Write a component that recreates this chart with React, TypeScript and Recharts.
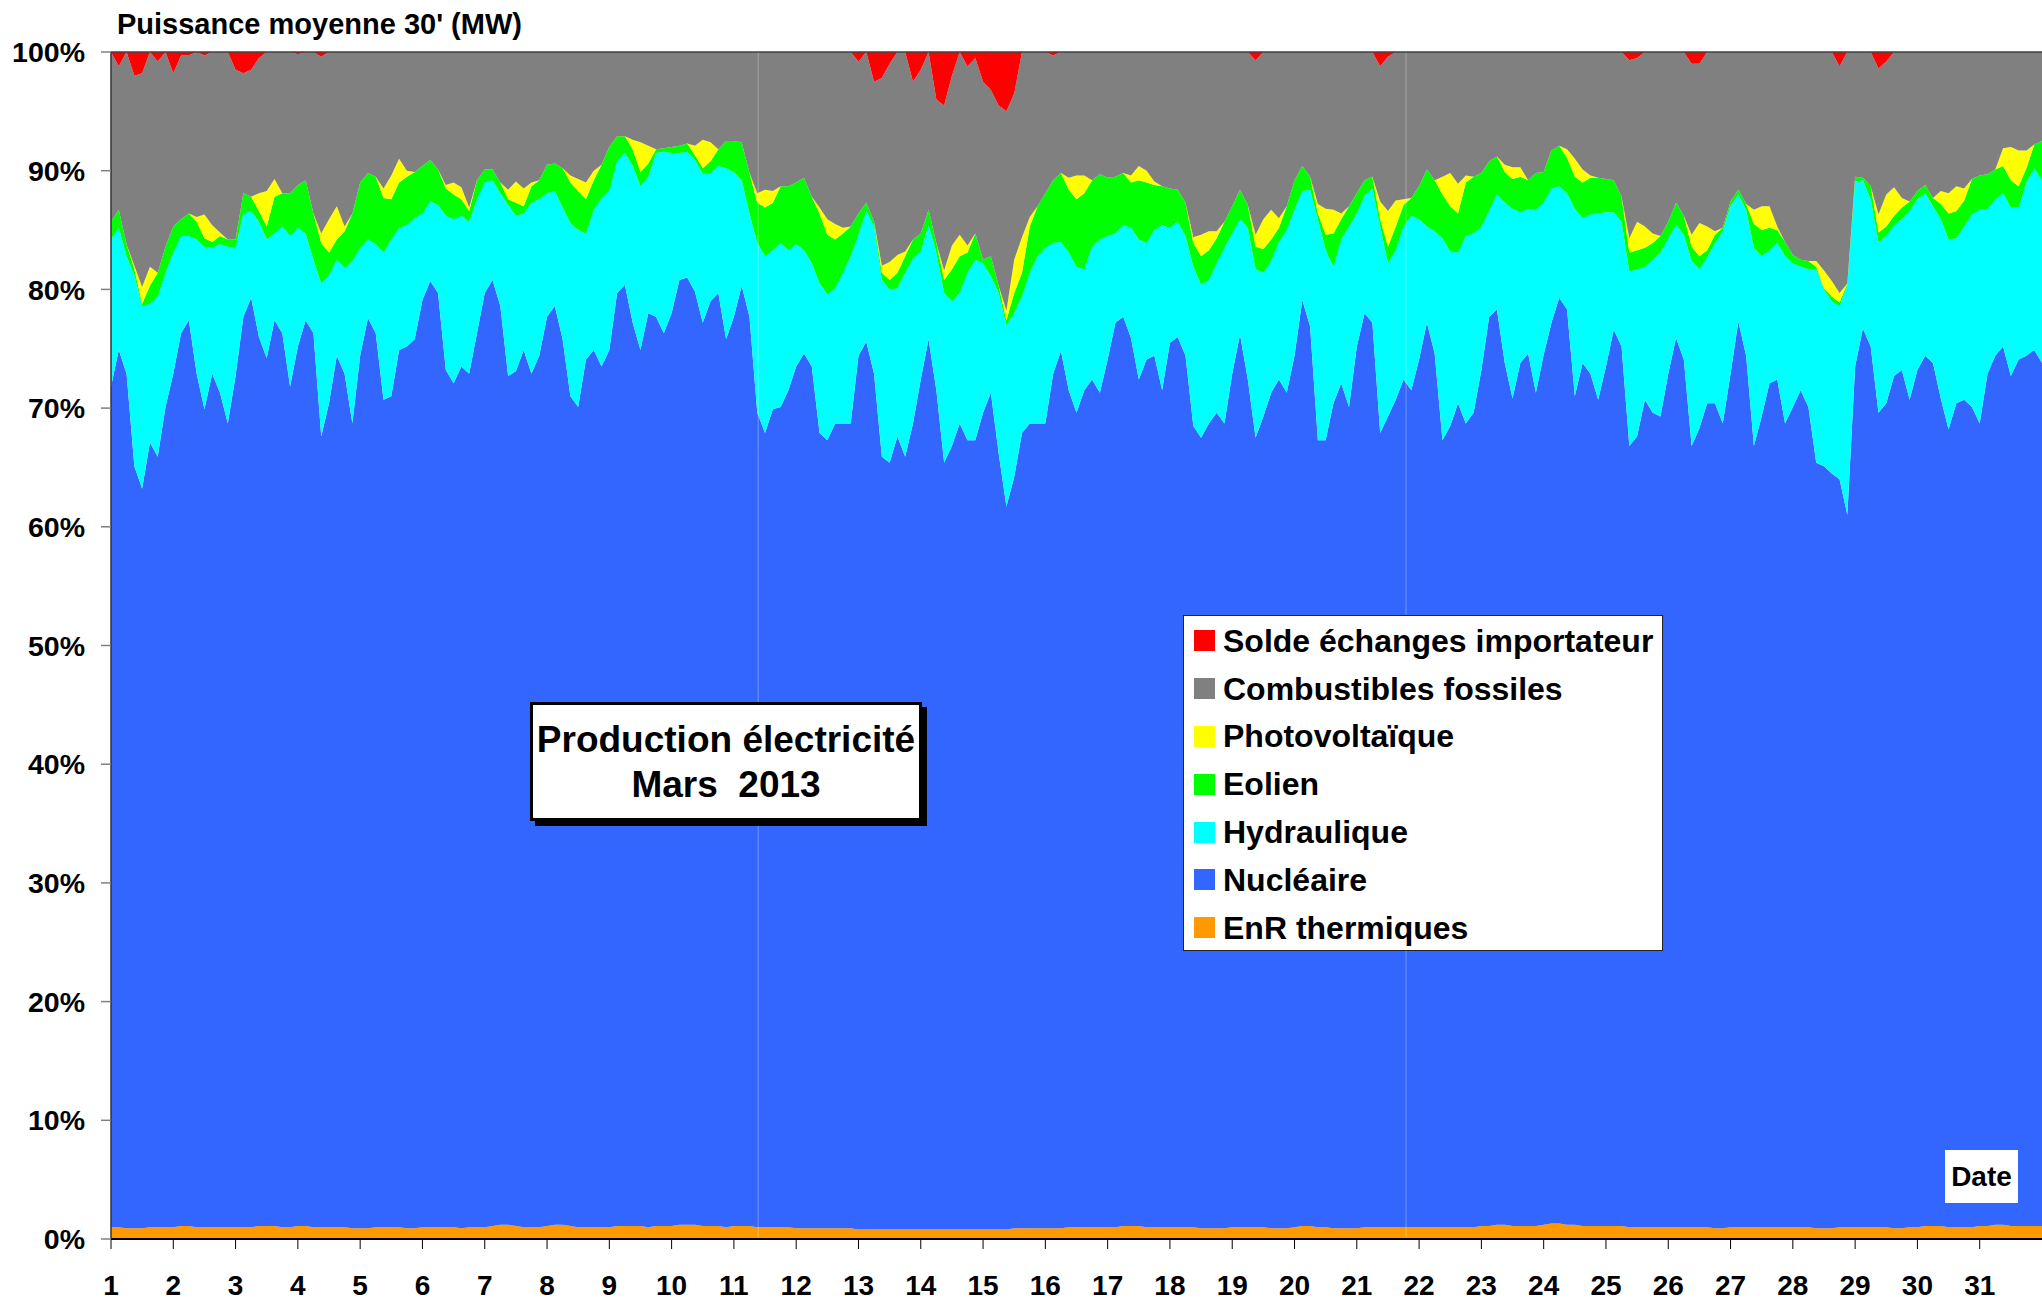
import { AreaChart, Area, XAxis, YAxis, ReferenceLine } from "recharts"

const FONT = '"Liberation Sans", Arial, Helvetica, sans-serif'

// graduations
const jours = [1, 2, 3, 4, 5, 6, 7, 8, 9, 10, 11, 12, 13, 14, 15, 16, 17, 18, 19, 20, 21, 22, 23, 24, 25, 26, 27, 28, 29, 30, 31]
const paliers = [0, 10, 20, 30, 40, 50, 60, 70, 80, 90, 100]
const pasParJour = 8 // un relevé toutes les 3 h (0h, 3h, ... 21h)
const raccords = [11.39, 21.79] // fines lignes verticales visibles sur l'original

// EnR thermiques (% de la production)
const enrThermiques = [
  1.0, 1.0, 0.9, 0.9, 0.9, 1.0, 1.0, 1.0,
  1.0, 1.1, 1.1, 1.0, 1.0, 1.0, 1.0, 1.0,
  1.0, 1.0, 1.0, 1.1, 1.1, 1.1, 1.0, 1.0,
  1.1, 1.1, 1.0, 1.0, 1.0, 1.0, 1.0, 0.9,
  0.9, 0.9, 1.0, 1.0, 1.0, 1.0, 0.9, 0.9,
  1.0, 1.0, 1.0, 1.0, 1.0, 0.9, 1.0, 1.0,
  1.0, 1.1, 1.2, 1.2, 1.1, 1.0, 1.0, 1.0,
  1.1, 1.2, 1.2, 1.1, 1.0, 1.0, 1.0, 1.0,
  1.0, 1.1, 1.1, 1.1, 1.1, 1.0, 1.1, 1.1,
  1.1, 1.2, 1.2, 1.2, 1.1, 1.1, 1.1, 1.0,
  1.1, 1.1, 1.1, 1.0, 1.0, 1.0, 1.0, 1.0,
  0.9, 0.9, 0.9, 0.9, 0.9, 0.9, 0.9, 0.9,
  0.8, 0.8, 0.8, 0.8, 0.8, 0.8, 0.8, 0.8,
  0.8, 0.8, 0.8, 0.8, 0.8, 0.8, 0.8, 0.8,
  0.8, 0.8, 0.8, 0.8, 0.9, 0.9, 0.9, 0.9,
  0.9, 0.9, 0.9, 1.0, 1.0, 1.0, 1.0, 1.0,
  1.0, 1.0, 1.1, 1.1, 1.1, 1.0, 1.0, 1.0,
  1.0, 1.0, 1.0, 1.0, 0.9, 0.9, 0.9, 0.9,
  1.0, 1.0, 1.0, 1.0, 1.0, 0.9, 0.9, 0.9,
  1.0, 1.1, 1.1, 1.0, 1.0, 0.9, 0.9, 0.9,
  0.9, 1.0, 1.0, 1.0, 1.0, 1.0, 1.0, 1.0,
  1.0, 1.0, 1.0, 1.0, 1.0, 1.0, 1.0, 1.0,
  1.1, 1.1, 1.2, 1.2, 1.1, 1.1, 1.1, 1.1,
  1.2, 1.3, 1.3, 1.2, 1.2, 1.1, 1.1, 1.1,
  1.1, 1.1, 1.1, 1.0, 1.0, 1.0, 1.0, 1.0,
  1.0, 1.0, 1.0, 1.0, 1.0, 1.0, 0.9, 0.9,
  1.0, 1.0, 1.0, 1.0, 1.0, 1.0, 1.0, 1.0,
  1.0, 1.0, 1.0, 0.9, 0.9, 0.9, 1.0, 1.0,
  1.0, 1.0, 1.0, 1.0, 1.0, 0.9, 0.9, 1.0,
  1.0, 1.1, 1.1, 1.1, 1.0, 1.0, 1.0, 1.0,
  1.1, 1.1, 1.2, 1.2, 1.1, 1.1, 1.1, 1.1,
  1.1,
]

// haut de la couche nucléaire (cumul en %)
const nucleaireHaut = [
  71.8, 74.9, 72.9, 65.1, 63.2, 67.1, 65.9, 70.1,
  72.9, 76.3, 77.4, 72.9, 69.9, 72.9, 71.3, 68.7,
  72.7, 77.7, 79.3, 76.0, 74.2, 77.4, 76.3, 71.8,
  75.2, 77.4, 76.3, 67.6, 70.4, 74.4, 72.9, 68.7,
  74.4, 77.6, 76.3, 70.7, 71.0, 74.9, 75.2, 75.8,
  79.1, 80.7, 79.7, 73.2, 72.1, 73.5, 72.9, 76.3,
  79.7, 80.8, 78.6, 72.7, 73.1, 74.9, 72.9, 74.4,
  77.7, 78.6, 75.8, 71.0, 70.1, 74.1, 74.9, 73.5,
  74.9, 79.7, 80.4, 77.2, 74.9, 78.0, 77.7, 76.3,
  78.0, 80.8, 81.0, 79.8, 77.2, 79.0, 79.7, 75.8,
  77.7, 80.3, 77.7, 69.6, 67.9, 69.9, 70.1, 71.5,
  73.5, 74.6, 73.5, 67.9, 67.3, 68.7, 68.7, 68.7,
  74.4, 75.6, 72.9, 65.9, 65.4, 67.6, 65.9, 68.7,
  72.4, 75.8, 71.5, 65.4, 66.8, 68.7, 67.3, 67.3,
  69.6, 71.3, 66.2, 61.7, 64.2, 67.9, 68.7, 68.7,
  68.7, 72.9, 74.8, 71.5, 69.6, 71.5, 72.4, 71.3,
  74.1, 77.2, 77.7, 75.9, 72.4, 74.1, 74.4, 71.5,
  75.5, 76.0, 74.4, 68.5, 67.5, 68.7, 69.6, 68.7,
  72.9, 76.2, 72.4, 67.5, 69.3, 71.3, 72.4, 71.3,
  74.4, 79.1, 76.9, 67.3, 67.3, 70.4, 72.1, 70.1,
  75.2, 78.0, 77.2, 67.9, 69.3, 70.7, 72.4, 71.5,
  74.1, 77.2, 74.6, 67.3, 68.5, 70.4, 68.7, 69.6,
  73.2, 77.7, 78.3, 73.8, 70.8, 73.8, 74.6, 71.3,
  74.5, 77.2, 79.3, 78.3, 71.0, 73.8, 72.9, 70.7,
  73.5, 76.6, 75.2, 66.8, 67.6, 70.7, 69.6, 69.3,
  72.9, 75.9, 74.1, 66.8, 68.3, 70.4, 70.4, 68.7,
  72.9, 77.3, 74.4, 66.8, 69.3, 72.1, 72.4, 68.7,
  70.1, 71.5, 70.1, 65.4, 65.1, 64.5, 64.0, 61.0,
  73.5, 76.7, 75.2, 69.6, 70.4, 72.7, 73.2, 70.7,
  73.2, 74.4, 73.8, 70.8, 68.2, 70.4, 70.7, 70.1,
  68.7, 72.9, 74.4, 75.2, 72.7, 74.1, 74.4, 74.9,
  73.8,
]

// haut de la couche hydraulique (cumul en %)
const hydrauliqueHaut = [
  84.2, 85.2, 82.8, 81.2, 78.6, 78.8, 79.4, 81.4,
  83.1, 84.5, 84.5, 84.2, 83.6, 83.5, 83.8, 83.6,
  83.5, 86.4, 86.6, 85.7, 84.2, 84.7, 85.3, 84.5,
  85.2, 84.7, 82.5, 80.5, 81.2, 82.5, 81.8, 82.4,
  83.5, 84.2, 83.8, 83.1, 84.2, 85.2, 85.4, 86.0,
  86.4, 87.4, 87.1, 86.2, 85.9, 86.2, 85.7, 87.6,
  89.0, 89.2, 88.1, 87.1, 86.2, 86.4, 87.3, 87.6,
  88.1, 88.3, 86.9, 85.6, 85.0, 84.7, 86.7, 87.7,
  88.3, 90.8, 91.5, 90.4, 88.7, 89.5, 91.5, 91.6,
  91.5, 91.5, 91.6, 90.9, 89.7, 89.8, 90.4, 90.2,
  89.9, 89.2, 86.4, 83.9, 82.8, 83.3, 83.9, 83.3,
  83.8, 83.3, 82.2, 80.5, 79.6, 80.1, 81.4, 82.8,
  84.6, 86.6, 85.3, 80.8, 80.0, 80.1, 81.4, 82.6,
  83.2, 85.4, 83.1, 79.7, 79.0, 79.7, 81.4, 82.5,
  82.2, 81.1, 79.7, 77.0, 78.0, 79.4, 81.4, 82.8,
  83.5, 83.9, 84.0, 83.1, 81.9, 81.7, 83.6, 84.2,
  84.5, 84.7, 85.4, 85.2, 84.2, 83.9, 85.0, 85.4,
  85.2, 85.7, 84.5, 81.9, 80.4, 80.8, 82.2, 83.5,
  84.7, 85.9, 85.2, 81.7, 81.4, 82.4, 84.0, 85.0,
  86.7, 88.3, 88.4, 85.9, 83.3, 81.9, 84.2, 85.3,
  86.4, 87.9, 88.5, 85.3, 82.2, 83.3, 85.3, 86.2,
  85.9, 85.3, 84.9, 84.3, 83.2, 83.1, 84.5, 84.7,
  85.3, 86.6, 88.0, 87.3, 86.8, 86.5, 86.8, 86.7,
  87.3, 88.5, 88.7, 88.1, 86.8, 86.0, 86.3, 86.4,
  86.5, 86.5, 85.7, 81.5, 81.7, 81.9, 82.5, 83.1,
  84.3, 85.4, 84.6, 82.4, 81.7, 82.7, 83.9, 84.9,
  87.0, 88.0, 86.7, 83.5, 82.8, 83.3, 83.9, 82.8,
  82.2, 81.9, 81.7, 81.7, 80.0, 79.0, 78.6, 80.3,
  89.1, 89.2, 87.6, 84.0, 84.5, 85.4, 85.9, 86.6,
  87.6, 88.1, 87.0, 85.9, 84.2, 84.3, 85.3, 86.3,
  86.7, 86.8, 87.6, 88.1, 86.9, 86.9, 89.0, 90.2,
  89.2,
]

// haut de la couche éolienne (cumul en %)
const eolienHaut = [
  85.7, 86.7, 83.8, 81.7, 78.8, 80.3, 81.4, 83.6,
  85.3, 85.9, 86.4, 85.7, 84.3, 84.0, 84.5, 84.2,
  84.2, 88.1, 87.8, 86.6, 85.3, 87.8, 88.1, 88.1,
  88.8, 89.2, 86.4, 83.9, 83.1, 84.2, 84.9, 86.4,
  89.0, 89.8, 89.5, 87.7, 87.6, 89.0, 89.5, 89.9,
  90.4, 90.9, 90.1, 88.5, 88.0, 87.6, 86.6, 89.2,
  90.1, 90.1, 89.0, 87.6, 87.3, 87.0, 88.7, 89.2,
  90.5, 90.6, 90.2, 89.0, 88.3, 87.6, 89.2, 90.5,
  92.0, 92.9, 92.9, 91.8, 89.9, 90.6, 91.8, 91.9,
  92.0, 92.1, 92.3, 91.3, 90.2, 90.8, 91.8, 92.5,
  92.5, 92.4, 89.8, 87.3, 86.9, 87.3, 88.7, 88.7,
  89.0, 89.4, 87.8, 86.4, 84.6, 84.2, 84.7, 85.3,
  86.4, 87.3, 85.7, 81.4, 80.8, 81.4, 82.8, 84.2,
  84.7, 86.7, 83.9, 80.8, 81.7, 82.8, 83.1, 84.7,
  82.5, 82.8, 80.3, 77.4, 79.7, 81.4, 85.3, 87.0,
  88.1, 89.2, 89.8, 88.4, 87.6, 88.1, 89.2, 89.7,
  89.4, 89.5, 89.8, 89.0, 89.2, 89.0, 88.8, 88.7,
  88.5, 88.4, 87.3, 83.9, 82.8, 83.3, 84.3, 85.7,
  87.0, 88.4, 87.1, 83.6, 83.4, 84.2, 85.2, 87.0,
  89.2, 90.4, 89.5, 86.4, 84.6, 84.7, 85.9, 87.0,
  88.1, 89.2, 89.5, 85.9, 83.6, 85.3, 87.1, 87.7,
  88.7, 90.1, 89.2, 88.0, 87.0, 86.4, 89.0, 89.5,
  89.8, 90.8, 91.2, 89.9, 89.3, 89.5, 89.2, 89.8,
  89.9, 91.7, 92.1, 91.1, 89.5, 89.0, 89.4, 89.4,
  89.3, 89.2, 87.8, 83.1, 83.3, 83.5, 83.9, 84.5,
  85.7, 87.3, 86.2, 83.6, 82.8, 83.3, 84.6, 85.2,
  87.4, 88.4, 87.2, 85.5, 85.0, 85.2, 85.0, 84.0,
  82.9, 82.5, 82.4, 81.9, 80.1, 79.4, 78.9, 80.5,
  89.5, 89.4, 88.7, 84.8, 85.3, 86.2, 86.9, 87.4,
  88.3, 88.8, 87.7, 87.2, 86.4, 86.6, 87.5, 89.3,
  89.6, 89.7, 90.1, 90.4, 89.2, 88.7, 90.2, 92.2,
  92.5,
]

// photovoltaïque (épaisseur en %)
const photovoltaique = [
  0, 0, 0, 0.3, 1.4, 1.6, 0, 0,
  0, 0, 0, 0.4, 2.0, 1.4, 0.3, 0,
  0, 0, 0, 1.5, 3.0, 1.5, 0, 0,
  0, 0, 0, 0.8, 2.8, 2.8, 0.4, 0,
  0, 0, 0, 0.8, 2.0, 2.0, 0.5, 0,
  0, 0, 0, 0.3, 1.0, 1.0, 0.3, 0,
  0, 0, 0, 0.8, 1.8, 1.5, 0.3, 0,
  0, 0, 0, 0.6, 1.0, 1.4, 0.8, 0,
  0, 0, 0, 0.8, 2.5, 1.5, 0, 0,
  0, 0, 0, 0.8, 2.4, 1.6, 0, 0,
  0, 0, 0, 0.8, 1.5, 1.0, 0, 0,
  0, 0, 0, 0.5, 1.3, 1.3, 0.5, 0,
  0, 0, 0, 0.6, 1.5, 1.5, 0.4, 0,
  0, 0, 0, 0.8, 2.0, 1.8, 0.6, 0,
  0, 0, 0, 0.8, 2.8, 3.0, 0.8, 0,
  0, 0, 0, 1.0, 2.0, 1.5, 0, 0,
  0, 0, 0, 0.6, 1.2, 1.0, 0.3, 0,
  0, 0, 0, 0.5, 1.8, 1.6, 0.6, 0,
  0, 0, 0, 1.0, 2.5, 2.5, 0.8, 0,
  0, 0, 0, 0.8, 2.2, 2.0, 0.5, 0,
  0, 0, 0, 1.5, 3.0, 2.2, 0.5, 0,
  0, 0, 0, 1.5, 2.8, 2.5, 0.6, 0,
  0, 0, 0, 0.6, 1.0, 0.8, 0, 0,
  0, 0, 0, 0.7, 1.5, 1.1, 0.2, 0,
  0, 0, 0, 1.2, 2.4, 1.8, 0.8, 0,
  0, 0, 0, 1.0, 2.8, 2.0, 0.3, 0,
  0, 0, 0, 1.2, 2.0, 1.8, 0.3, 0,
  0, 0, 0, 0.5, 1.5, 1.3, 0.8, 0,
  0, 0, 0, 1.5, 2.7, 2.4, 0.8, 0,
  0, 0, 0, 1.1, 1.7, 2.1, 1.0, 0,
  0, 0, 0, 1.5, 2.8, 3.0, 1.5, 0,
  0,
]

// solde des échanges importateur (épaisseur en %)
const soldeImport = [
  0, 1.2, 0, 2.0, 1.8, 0, 0.8, 0,
  1.8, 0.3, 0.3, 0, 0.3, 0, 0, 0,
  1.5, 1.8, 1.5, 0.5, 0, 0, 0, 0,
  0.2, 0, 0, 0.4, 0, 0, 0, 0,
  0, 0, 0, 0, 0, 0, 0, 0,
  0, 0, 0, 0, 0, 0, 0, 0,
  0, 0, 0, 0, 0, 0, 0, 0,
  0, 0, 0, 0, 0, 0, 0, 0,
  0, 0, 0, 0, 0, 0, 0, 0,
  0, 0, 0, 0, 0, 0, 0, 0,
  0, 0, 0, 0, 0, 0, 0, 0,
  0, 0, 0, 0, 0, 0, 0, 0,
  0.8, 0, 2.5, 2.2, 1.0, 0, 0, 2.5,
  1.5, 0, 4.0, 4.5, 2.0, 0, 1.2, 0.5,
  2.5, 3.2, 4.5, 5.0, 3.5, 0, 0, 0,
  0, 0.3, 0, 0, 0, 0, 0, 0,
  0, 0, 0, 0, 0, 0, 0, 0,
  0, 0, 0, 0, 0, 0, 0, 0,
  0, 0, 0, 0.7, 0, 0, 0, 0,
  0, 0, 0, 0, 0, 0, 0, 0,
  0, 0, 0, 1.2, 0.4, 0, 0, 0,
  0, 0, 0, 0, 0, 0, 0, 0,
  0, 0, 0, 0, 0, 0, 0, 0,
  0, 0, 0, 0, 0, 0, 0, 0,
  0, 0, 0, 0.7, 0.5, 0, 0, 0,
  0, 0, 0, 1.0, 1.0, 0, 0, 0,
  0, 0, 0, 0, 0, 0, 0, 0,
  0, 0, 0, 0, 0, 0, 1.2, 0,
  0, 0, 0, 1.4, 0.8, 0, 0, 0,
  0, 0, 0, 0, 0, 0, 0, 0,
  0, 0, 0, 0, 0, 0, 0, 0,
  0,
]

// ordre d'empilement (du bas vers le haut)
const couches = [
  { key: "enr", name: "EnR thermiques", color: "#FF9900" },
  { key: "nucleaire", name: "Nucléaire", color: "#3366FF" },
  { key: "hydraulique", name: "Hydraulique", color: "#00FFFF" },
  { key: "eolien", name: "Eolien", color: "#00FF00" },
  { key: "photovoltaique", name: "Photovoltaïque", color: "#FFFF00" },
  { key: "fossiles", name: "Combustibles fossiles", color: "#808080" },
  { key: "solde", name: "Solde échanges importateur", color: "#FF0000" },
]

const data = nucleaireHaut.map((_, i) => ({
  t: 1 + i / pasParJour,
  enr: enrThermiques[i],
  nucleaire: nucleaireHaut[i] - enrThermiques[i],
  hydraulique: hydrauliqueHaut[i] - nucleaireHaut[i],
  eolien: eolienHaut[i] - hydrauliqueHaut[i],
  photovoltaique: photovoltaique[i],
  fossiles: 100 - soldeImport[i] - eolienHaut[i] - photovoltaique[i],
  solde: soldeImport[i],
}))

const xTick = { fontSize: 28, fontWeight: 700, fill: "#000", fontFamily: FONT }
const yTick = { fontSize: 28.5, fontWeight: 700, fill: "#000", fontFamily: FONT }

export default function App() {
  const legende = [...couches].reverse()
  return (
    <div
      style={{
        position: "absolute",
        left: 0,
        top: 0,
        width: 2042,
        height: 1300,
        background: "#fff",
        fontFamily: FONT,
        overflow: "hidden",
      }}
    >
      <AreaChart width={2042} height={1300} data={data} margin={{ top: 52, right: 0, bottom: 0, left: 0 }}>
        {couches.map((c) => (
          <Area
            key={c.key}
            type="linear"
            dataKey={c.key}
            name={c.name}
            stackId="prod"
            stroke="none"
            fill={c.color}
            fillOpacity={1}
            dot={false}
            activeDot={false}
            isAnimationActive={false}
          />
        ))}
        {raccords.map((x) => (
          <ReferenceLine key={x} x={x} stroke="#ffffff" strokeOpacity={0.3} strokeWidth={1} />
        ))}
        <ReferenceLine y={100} stroke="#404040" strokeWidth={1.5} />
        <XAxis
          dataKey="t"
          type="number"
          domain={[1, 32]}
          allowDataOverflow
          ticks={jours}
          interval={0}
          height={61}
          tickSize={10}
          tickMargin={26}
          axisLine={{ stroke: "#000", strokeWidth: 2 }}
          tickLine={{ stroke: "#000" }}
          tick={xTick}
        />
        <YAxis
          type="number"
          domain={[0, 100]}
          ticks={paliers}
          interval={0}
          width={111}
          tickSize={10}
          tickMargin={16}
          tickFormatter={(v) => `${v}%`}
          axisLine={{ stroke: "#333", strokeWidth: 1.5 }}
          tickLine={{ stroke: "#808080", strokeWidth: 1.5 }}
          tick={yTick}
        />
      </AreaChart>

      <div style={{ position: "absolute", left: 117, top: 7, fontSize: 29, fontWeight: 700, lineHeight: "34px", whiteSpace: "pre" }}>
        Puissance moyenne 30' (MW)
      </div>

      <div
        style={{
          position: "absolute",
          left: 530,
          top: 702,
          width: 392,
          height: 119,
          boxSizing: "border-box",
          background: "#fff",
          border: "3px solid #000",
          boxShadow: "5px 5px 0 #000",
          display: "flex",
          flexDirection: "column",
          justifyContent: "center",
          alignItems: "center",
          fontSize: 37,
          fontWeight: 700,
          lineHeight: "45px",
          whiteSpace: "pre",
        }}
      >
        <div>Production électricité</div>
        <div>Mars  2013</div>
      </div>

      <div
        style={{
          position: "absolute",
          left: 1183,
          top: 615,
          width: 480,
          height: 336,
          boxSizing: "border-box",
          background: "#fff",
          border: "1.5px solid #222",
        }}
      >
        {legende.map((c, i) => (
          <div
            key={c.key}
            style={{
              position: "absolute",
              left: 10,
              top: 1 + i * 47.8,
              height: 47.8,
              display: "flex",
              alignItems: "center",
              whiteSpace: "pre",
            }}
          >
            <span style={{ width: 21, height: 21, background: c.color, display: "inline-block", marginRight: 8 }} />
            <span style={{ fontSize: 32, fontWeight: 700, lineHeight: "36px" }}>{c.name}</span>
          </div>
        ))}
      </div>

      <div
        style={{
          position: "absolute",
          left: 1945,
          top: 1150,
          width: 73,
          height: 53,
          background: "#fff",
          display: "flex",
          alignItems: "center",
          justifyContent: "center",
          fontSize: 28,
          fontWeight: 700,
        }}
      >
        Date
      </div>
    </div>
  )
}
